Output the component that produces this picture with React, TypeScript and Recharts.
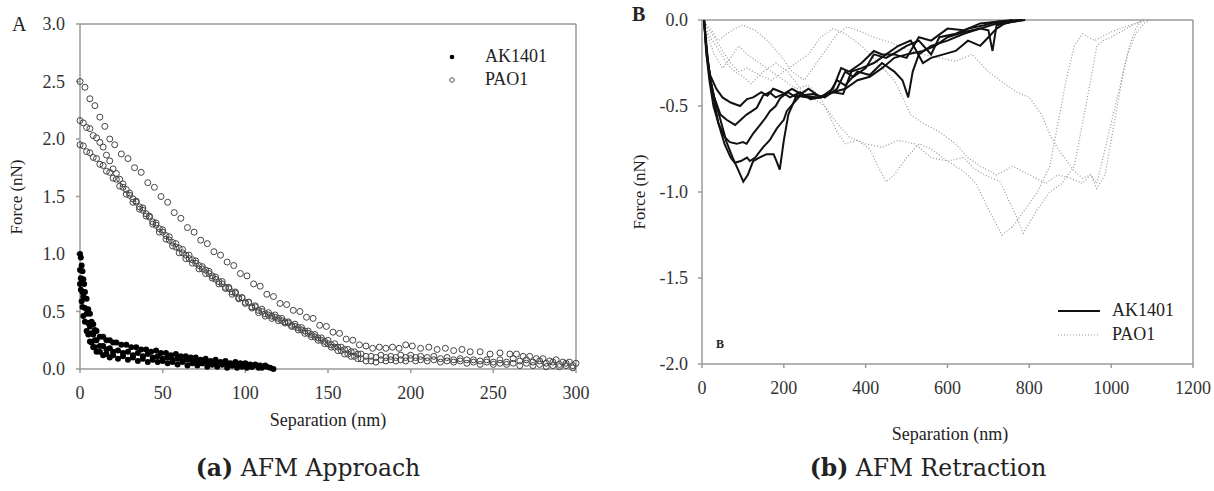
import { ScatterChart, Scatter, LineChart, Line, XAxis, YAxis, ReferenceLine } from 'recharts'

// ---- panel A: approach (Separation nm, Force nN) ----
const approachXTicks = [0, 50, 100, 150, 200, 250, 300]
const approachYTicks = [0, 0.5, 1.0, 1.5, 2.0, 2.5, 3.0]

const akApproach1 = [[0,1.0],[0.5,0.97],[1,0.9],[1.5,0.85],[2,0.78],[2.5,0.74],[3,0.67],[4,0.61],[5,0.52],[6,0.48],[7,0.41],[8,0.39],[9,0.34],[10,0.33],[12,0.28],[14,0.28],[16,0.25],[18,0.25],[20,0.23],[22,0.23],[25,0.21],[28,0.21],[31,0.19],[34,0.19],[37,0.17],[40,0.17],[43,0.15],[46,0.16],[49,0.14],[52,0.14],[55,0.12],[58,0.13],[61,0.11],[64,0.11],[67,0.1],[70,0.1],[73,0.08],[76,0.09],[79,0.07],[82,0.08],[85,0.06],[88,0.07],[91,0.05],[94,0.06],[97,0.05],[100,0.05],[103,0.04],[106,0.04],[109,0.03],[112,0.03],[115,0.01]]
const akApproach2 = [[0,0.86],[0.5,0.79],[1,0.75],[1.5,0.67],[2,0.63],[3,0.53],[4,0.48],[5,0.4],[6,0.37],[7,0.31],[8,0.3],[9,0.25],[10,0.25],[12,0.2],[14,0.2],[16,0.17],[18,0.18],[20,0.15],[23,0.16],[26,0.14],[29,0.15],[32,0.12],[35,0.14],[38,0.11],[41,0.13],[44,0.1],[47,0.11],[50,0.09],[53,0.1],[56,0.08],[59,0.09],[62,0.07],[65,0.08],[68,0.06],[71,0.07],[74,0.05],[77,0.06],[80,0.04],[83,0.05],[86,0.04],[89,0.05],[92,0.03],[95,0.04],[98,0.02],[101,0.04],[104,0.02],[107,0.03],[110,0.01]]
const akApproach3 = [[0,0.74],[0.5,0.69],[1,0.59],[1.5,0.54],[2,0.46],[3,0.41],[4,0.33],[5,0.3],[6,0.24],[7,0.23],[8,0.19],[9,0.19],[10,0.15],[12,0.15],[14,0.12],[16,0.13],[18,0.1],[20,0.12],[23,0.09],[26,0.11],[29,0.08],[32,0.1],[35,0.07],[38,0.09],[41,0.06],[44,0.08],[47,0.06],[50,0.07],[53,0.05],[56,0.06],[59,0.04],[62,0.06],[65,0.03],[68,0.05],[71,0.03],[74,0.05],[77,0.02],[80,0.04],[83,0.02],[86,0.04],[89,0.01],[92,0.03],[95,0.01],[98,0.03],[101,0.01],[104,0.02],[108,0.01],[113,0.02],[117,0.0]]

const paoApproach1 = [[0,2.5],[3,2.45],[6,2.35],[9,2.29],[12,2.19],[15,2.11],[18,2.0],[21,1.95],[25,1.87],[29,1.83],[33,1.75],[37,1.71],[41,1.62],[45,1.58],[49,1.5],[53,1.45],[57,1.36],[61,1.31],[65,1.23],[69,1.19],[73,1.12],[77,1.09],[81,1.02],[85,0.99],[89,0.93],[93,0.9],[97,0.83],[101,0.81],[105,0.74],[109,0.72],[113,0.65],[117,0.63],[121,0.57],[125,0.56],[129,0.51],[133,0.5],[137,0.45],[141,0.44],[145,0.38],[149,0.37],[153,0.32],[157,0.31],[161,0.26],[165,0.25],[169,0.21],[173,0.2],[177,0.18],[181,0.19],[185,0.18],[189,0.19],[193,0.18],[197,0.21],[201,0.2],[206,0.18],[211,0.19],[216,0.17],[221,0.18],[226,0.16],[231,0.17],[236,0.15],[242,0.15],[248,0.13],[254,0.14],[260,0.13],[264,0.13],[268,0.11],[272,0.11],[276,0.09],[280,0.09],[284,0.07],[288,0.08],[292,0.06],[296,0.06],[300,0.05]]
const paoApproach2 = [[0,2.16],[2,2.14],[4,2.1],[6,2.09],[8,2.03],[10,2.01],[12,1.97],[14,1.93],[16,1.86],[18,1.81],[20,1.74],[22,1.7],[24,1.65],[26,1.61],[28,1.56],[30,1.53],[32,1.48],[34,1.46],[36,1.41],[38,1.4],[40,1.35],[42,1.33],[44,1.28],[46,1.27],[48,1.22],[50,1.21],[52,1.16],[54,1.15],[56,1.1],[58,1.09],[60,1.05],[62,1.04],[64,0.99],[66,0.99],[68,0.95],[70,0.94],[72,0.9],[74,0.89],[76,0.86],[78,0.85],[80,0.81],[82,0.8],[84,0.76],[86,0.76],[88,0.71],[90,0.71],[92,0.67],[94,0.67],[96,0.62],[98,0.62],[100,0.58],[102,0.58],[104,0.54],[106,0.55],[108,0.51],[110,0.52],[112,0.48],[114,0.49],[116,0.46],[118,0.47],[120,0.44],[122,0.44],[124,0.41],[126,0.41],[128,0.38],[130,0.39],[132,0.36],[134,0.36],[136,0.33],[138,0.33],[140,0.3],[142,0.3],[144,0.27],[146,0.27],[148,0.24],[150,0.25],[152,0.21],[154,0.22],[156,0.19],[158,0.19],[160,0.17],[162,0.17],[164,0.15],[166,0.15],[168,0.13],[170,0.13],[173,0.11],[176,0.11],[179,0.1],[182,0.12],[185,0.1],[188,0.11],[191,0.1],[194,0.12],[197,0.1],[200,0.12],[203,0.1],[206,0.11],[210,0.1],[214,0.11],[218,0.09],[222,0.1],[226,0.08],[230,0.09],[234,0.08],[238,0.08],[242,0.07],[246,0.08],[250,0.06],[254,0.08],[258,0.06],[262,0.09],[266,0.07],[270,0.08],[274,0.06],[278,0.07],[282,0.05],[286,0.06],[290,0.04],[294,0.05],[298,0.03]]
const paoApproach3 = [[0,1.95],[2,1.94],[4,1.89],[6,1.88],[8,1.84],[10,1.83],[12,1.78],[14,1.77],[16,1.72],[18,1.71],[20,1.66],[22,1.65],[24,1.59],[26,1.58],[28,1.52],[30,1.51],[32,1.45],[34,1.45],[36,1.39],[38,1.38],[40,1.33],[42,1.32],[44,1.26],[46,1.25],[48,1.19],[50,1.19],[52,1.13],[54,1.12],[56,1.07],[58,1.06],[60,1.01],[62,1.01],[64,0.96],[66,0.96],[68,0.92],[70,0.92],[72,0.87],[74,0.87],[76,0.83],[78,0.83],[80,0.79],[82,0.78],[84,0.74],[86,0.74],[88,0.7],[90,0.7],[92,0.65],[94,0.66],[96,0.61],[98,0.62],[100,0.57],[102,0.58],[104,0.53],[106,0.54],[108,0.49],[110,0.5],[112,0.46],[114,0.47],[116,0.44],[118,0.45],[120,0.42],[122,0.42],[124,0.4],[126,0.4],[128,0.37],[130,0.37],[132,0.34],[134,0.34],[136,0.31],[138,0.31],[140,0.28],[142,0.28],[144,0.25],[146,0.25],[148,0.22],[150,0.22],[152,0.19],[154,0.19],[156,0.16],[158,0.16],[160,0.13],[162,0.13],[164,0.11],[166,0.11],[168,0.09],[170,0.09],[173,0.07],[176,0.07],[179,0.06],[182,0.08],[185,0.07],[188,0.08],[191,0.07],[194,0.08],[197,0.07],[200,0.09],[203,0.07],[206,0.08],[210,0.07],[214,0.08],[218,0.06],[222,0.07],[226,0.06],[230,0.07],[234,0.05],[238,0.06],[242,0.04],[246,0.06],[250,0.04],[254,0.05],[258,0.04],[262,0.05],[266,0.03],[270,0.05],[274,0.03],[278,0.04],[282,0.02],[286,0.03],[290,0.02],[294,0.03],[298,0.01]]

// ---- panel B: retraction ----
const retractXTicks = [0, 200, 400, 600, 800, 1000, 1200]
const retractYTicks = [-2.0, -1.5, -1.0, -0.5, 0.0]

const akRetract1 = [[5,0],[10,-0.12],[15,-0.25],[20,-0.34],[30,-0.45],[45,-0.58],[60,-0.71],[75,-0.8],[90,-0.88],[101,-0.94],[112,-0.9],[125,-0.82],[140,-0.8],[158,-0.78],[175,-0.78],[182,-0.82],[190,-0.87],[200,-0.7],[211,-0.55],[231,-0.44],[260,-0.45],[290,-0.45],[320,-0.42],[350,-0.4],[380,-0.35],[410,-0.33],[440,-0.28],[470,-0.22],[500,-0.2],[540,-0.18],[570,-0.15],[600,-0.1],[640,-0.07],[680,-0.05],[720,-0.02],[760,-0.01],[785,0]]
const akRetract2 = [[5,0],[10,-0.15],[18,-0.3],[28,-0.45],[40,-0.6],[55,-0.72],[70,-0.8],[80,-0.83],[95,-0.82],[110,-0.8],[117,-0.82],[130,-0.8],[149,-0.74],[165,-0.7],[183,-0.63],[200,-0.58],[207,-0.53],[225,-0.48],[240,-0.44],[270,-0.43],[300,-0.45],[330,-0.4],[350,-0.3],[370,-0.33],[400,-0.28],[420,-0.2],[450,-0.22],[480,-0.18],[500,-0.15],[530,-0.12],[560,-0.2],[580,-0.1],[620,-0.08],[650,-0.05],[690,-0.03],[720,-0.01],[760,0]]
const akRetract3 = [[5,0],[10,-0.18],[18,-0.35],[28,-0.5],[40,-0.6],[55,-0.68],[68,-0.71],[85,-0.72],[100,-0.71],[109,-0.72],[125,-0.66],[142,-0.61],[155,-0.57],[166,-0.53],[180,-0.5],[191,-0.455],[210,-0.42],[230,-0.45],[260,-0.4],[290,-0.45],[320,-0.4],[340,-0.28],[360,-0.3],[390,-0.25],[420,-0.18],[440,-0.2],[470,-0.2],[500,-0.22],[530,-0.1],[560,-0.12],[600,-0.05],[640,-0.06],[680,-0.02],[720,-0.01],[780,0]]
const akRetract4 = [[5,0],[12,-0.2],[20,-0.35],[30,-0.45],[45,-0.55],[60,-0.58],[81,-0.61],[95,-0.58],[109,-0.55],[122,-0.53],[134,-0.51],[149,-0.44],[165,-0.42],[180,-0.45],[200,-0.43],[220,-0.4],[250,-0.44],[280,-0.45],[310,-0.43],[330,-0.35],[350,-0.38],[380,-0.3],[410,-0.32],[440,-0.25],[470,-0.3],[490,-0.35],[504,-0.45],[515,-0.3],[530,-0.2],[560,-0.15],[600,-0.12],[640,-0.08],[680,-0.05],[700,-0.06],[710,-0.18],[720,-0.03],[760,-0.01],[790,0]]
const akRetract5 = [[5,0],[12,-0.22],[20,-0.32],[35,-0.4],[50,-0.45],[70,-0.48],[93,-0.5],[110,-0.46],[125,-0.45],[145,-0.42],[160,-0.44],[174,-0.4],[195,-0.42],[215,-0.45],[240,-0.42],[265,-0.46],[290,-0.45],[320,-0.42],[345,-0.43],[365,-0.3],[390,-0.28],[420,-0.25],[450,-0.2],[480,-0.15],[510,-0.12],[540,-0.25],[560,-0.22],[590,-0.2],[620,-0.18],[650,-0.12],[680,-0.15],[700,-0.1],[720,-0.05],[740,-0.02],[770,0]]

const paoRetract1 = [[0,0],[15,-0.1],[30,-0.2],[50,-0.28],[70,-0.22],[90,-0.15],[110,-0.2],[140,-0.25],[170,-0.3],[200,-0.35],[230,-0.4],[260,-0.38],[290,-0.45],[310,-0.55],[330,-0.65],[350,-0.72],[380,-0.7],[410,-0.75],[430,-0.85],[450,-0.94],[470,-0.9],[500,-0.8],[530,-0.72],[560,-0.75],[600,-0.82],[640,-0.88],[670,-0.95],[700,-1.1],[733,-1.25],[760,-1.2],[790,-1.1],[820,-1.0],[850,-0.85],[870,-0.6],[890,-0.35],[910,-0.15],[930,-0.08],[960,-0.12],[990,-0.08],[1020,-0.05],[1060,-0.02],[1080,0]]
const paoRetract2 = [[0,0],[20,-0.05],[40,-0.12],[60,-0.08],[80,-0.05],[100,-0.03],[130,-0.06],[160,-0.12],[190,-0.2],[220,-0.3],[250,-0.35],[280,-0.25],[310,-0.15],[330,-0.08],[355,-0.04],[380,-0.06],[420,-0.1],[460,-0.13],[500,-0.17],[540,-0.2],[580,-0.22],[620,-0.24],[660,-0.2],[700,-0.3],[745,-0.38],[770,-0.42],[800,-0.45],[830,-0.55],[851,-0.67],[870,-0.75],[892,-0.82],[910,-0.88],[930,-0.92],[950,-0.9],[965,-0.98],[985,-0.9],[1000,-0.7],[1015,-0.5],[1030,-0.3],[1045,-0.15],[1060,-0.05],[1075,0]]
const paoRetract3 = [[0,0],[20,-0.1],[40,-0.17],[60,-0.25],[80,-0.3],[100,-0.33],[120,-0.37],[150,-0.3],[180,-0.25],[210,-0.3],[240,-0.4],[270,-0.45],[300,-0.5],[330,-0.6],[360,-0.68],[400,-0.72],[440,-0.74],[480,-0.7],[520,-0.72],[560,-0.8],[600,-0.82],[640,-0.8],[663,-0.86],[690,-0.9],[729,-0.94],[750,-1.05],[770,-1.15],[785,-1.24],[800,-1.18],[820,-1.1],[850,-1.0],[880,-0.95],[910,-0.85],[930,-0.6],[950,-0.35],[965,-0.15],[980,-0.12],[1000,-0.1],[1030,-0.06],[1060,-0.02],[1085,0]]
const paoRetract4 = [[0,0],[15,-0.05],[30,-0.1],[50,-0.18],[70,-0.25],[90,-0.3],[110,-0.28],[140,-0.32],[170,-0.35],[200,-0.3],[230,-0.25],[260,-0.2],[290,-0.1],[320,-0.05],[350,-0.08],[390,-0.15],[430,-0.25],[470,-0.35],[510,-0.55],[540,-0.6],[580,-0.65],[620,-0.72],[650,-0.8],[680,-0.85],[720,-0.9],[760,-0.85],[800,-0.9],[840,-0.95],[870,-0.9],[900,-0.92],[930,-0.95],[950,-0.9],[965,-0.95],[980,-0.8],[1000,-0.6],[1020,-0.4],[1040,-0.2],[1060,-0.08],[1080,-0.02],[1095,0]]

const toPts = (arr: number[][]) => arr.map(([x, y]) => ({ x, y }))

const SERIF = '"Liberation Serif", "Times New Roman", serif'
const AXIS = '#9a9a9a'
const tickStyle = { fill: '#333', fontSize: 18, fontFamily: SERIF }

const FilledDot = (p: any) => <circle cx={p.cx} cy={p.cy} r={3} fill="#000" />
const OpenDot = (p: any) => <circle cx={p.cx} cy={p.cy} r={3} fill="none" stroke="#444" strokeWidth={1} />

const akApproach = [akApproach1, akApproach2, akApproach3]
const paoApproach = [paoApproach1, paoApproach2, paoApproach3]
const akRetract = [akRetract1, akRetract2, akRetract3, akRetract4, akRetract5]
const paoRetract = [paoRetract1, paoRetract2, paoRetract3, paoRetract4]

const abs = (left: number, top: number, extra: any = {}) => ({
  position: 'absolute' as const, left, top, fontFamily: SERIF, color: '#222', whiteSpace: 'nowrap' as const, ...extra,
})

export default function App() {
  return (
    <div style={{ position: 'absolute', left: 0, top: 0, width: 1214, height: 491, background: '#fff', overflow: 'hidden' }}>
      {/* Panel A */}
      <div style={{ position: 'absolute', left: 0, top: 0 }}>
        <ScatterChart width={600} height={440} margin={{ top: 24, right: 24, bottom: 41, left: 0 }}>
          <XAxis type="number" dataKey="x" domain={[0, 300]} ticks={approachXTicks} stroke={AXIS} strokeWidth={1.5}
            tickSize={4} tickMargin={13} tick={tickStyle} height={30} />
          <YAxis type="number" dataKey="y" domain={[0, 3]} ticks={approachYTicks} stroke={AXIS} strokeWidth={1.5}
            tickSize={4} tickMargin={11} tick={tickStyle} width={80} tickFormatter={(v: number) => v.toFixed(1)} />
          <ReferenceLine y={3} stroke={AXIS} strokeWidth={1.5} />
          <ReferenceLine x={300} stroke={AXIS} strokeWidth={1.5} />
          {paoApproach.map((s, i) => (
            <Scatter key={`pao-${i}`} data={toPts(s)} shape={OpenDot} isAnimationActive={false} />
          ))}
          {akApproach.map((s, i) => (
            <Scatter key={`ak-${i}`} data={toPts(s)} shape={FilledDot} isAnimationActive={false} />
          ))}
        </ScatterChart>
      </div>
      <div style={abs(12, 13, { fontSize: 20 })}>A</div>
      <div style={abs(17, 197, { fontSize: 17, transform: 'translate(-50%, -50%) rotate(-90deg)' })}>Force (nN)</div>
      <div style={abs(328, 420, { fontSize: 18, transform: 'translate(-50%, -50%)' })}>Separation (nm)</div>
      <svg style={{ position: 'absolute', left: 440, top: 45 }} width={30} height={45}>
        <circle cx={12} cy={12} r={2.3} fill="#000" />
        <circle cx={12} cy={35} r={2.3} fill="none" stroke="#555" strokeWidth={1} />
      </svg>
      <div style={abs(485, 46, { fontSize: 18 })}>AK1401</div>
      <div style={abs(485, 69, { fontSize: 18 })}>PAO1</div>

      {/* Panel B */}
      <div style={{ position: 'absolute', left: 600, top: 0 }}>
        <LineChart width={614} height={440} margin={{ top: 20, right: 21, bottom: 46, left: 0 }}>
          <XAxis type="number" dataKey="x" domain={[0, 1200]} ticks={retractXTicks} stroke={AXIS} strokeWidth={1.5}
            tickSize={4} tickMargin={13} tick={tickStyle} height={30} allowDuplicatedCategory={false} />
          <YAxis type="number" dataKey="y" domain={[-2, 0]} ticks={retractYTicks} stroke={AXIS} strokeWidth={1.5}
            tickSize={4} tickMargin={10} tick={tickStyle} width={102} tickFormatter={(v: number) => v.toFixed(1)} />
          <ReferenceLine y={0} stroke={AXIS} strokeWidth={1.5} />
          <ReferenceLine x={1200} stroke={AXIS} strokeWidth={1.5} />
          {paoRetract.map((s, i) => (
            <Line key={`paor-${i}`} data={toPts(s)} dataKey="y" type="linear" stroke="#999" strokeWidth={1.2}
              strokeDasharray="1 2" dot={false} isAnimationActive={false} />
          ))}
          {akRetract.map((s, i) => (
            <Line key={`akr-${i}`} data={toPts(s)} dataKey="y" type="linear" stroke="#111" strokeWidth={2}
              dot={false} isAnimationActive={false} />
          ))}
        </LineChart>
      </div>
      <div style={abs(632, 3, { fontSize: 20, fontWeight: 'bold' })}>B</div>
      <div style={abs(640, 192, { fontSize: 17, transform: 'translate(-50%, -50%) rotate(-90deg)' })}>Force (nN)</div>
      <div style={abs(950, 434, { fontSize: 18, transform: 'translate(-50%, -50%)' })}>Separation (nm)</div>
      <div style={abs(716, 337, { fontSize: 12, fontWeight: 'bold' })}>B</div>
      <svg style={{ position: 'absolute', left: 1055, top: 300 }} width={50} height={45}>
        <line x1={3} y1={11} x2={45} y2={11} stroke="#111" strokeWidth={2} />
        <line x1={3} y1={35} x2={45} y2={35} stroke="#999" strokeWidth={1.2} strokeDasharray="1 2" />
      </svg>
      <div style={abs(1112, 300, { fontSize: 18 })}>AK1401</div>
      <div style={abs(1112, 324, { fontSize: 18 })}>PAO1</div>

      {/* captions */}
      <div style={abs(308, 468, { fontSize: 23.5, fontFamily: '"DejaVu Serif", serif', transform: 'translate(-50%, -50%)' })}>
        <b>(a)</b> AFM Approach
      </div>
      <div style={abs(928, 468, { fontSize: 23.5, fontFamily: '"DejaVu Serif", serif', transform: 'translate(-50%, -50%)' })}>
        <b>(b)</b> AFM Retraction
      </div>
    </div>
  )
}
